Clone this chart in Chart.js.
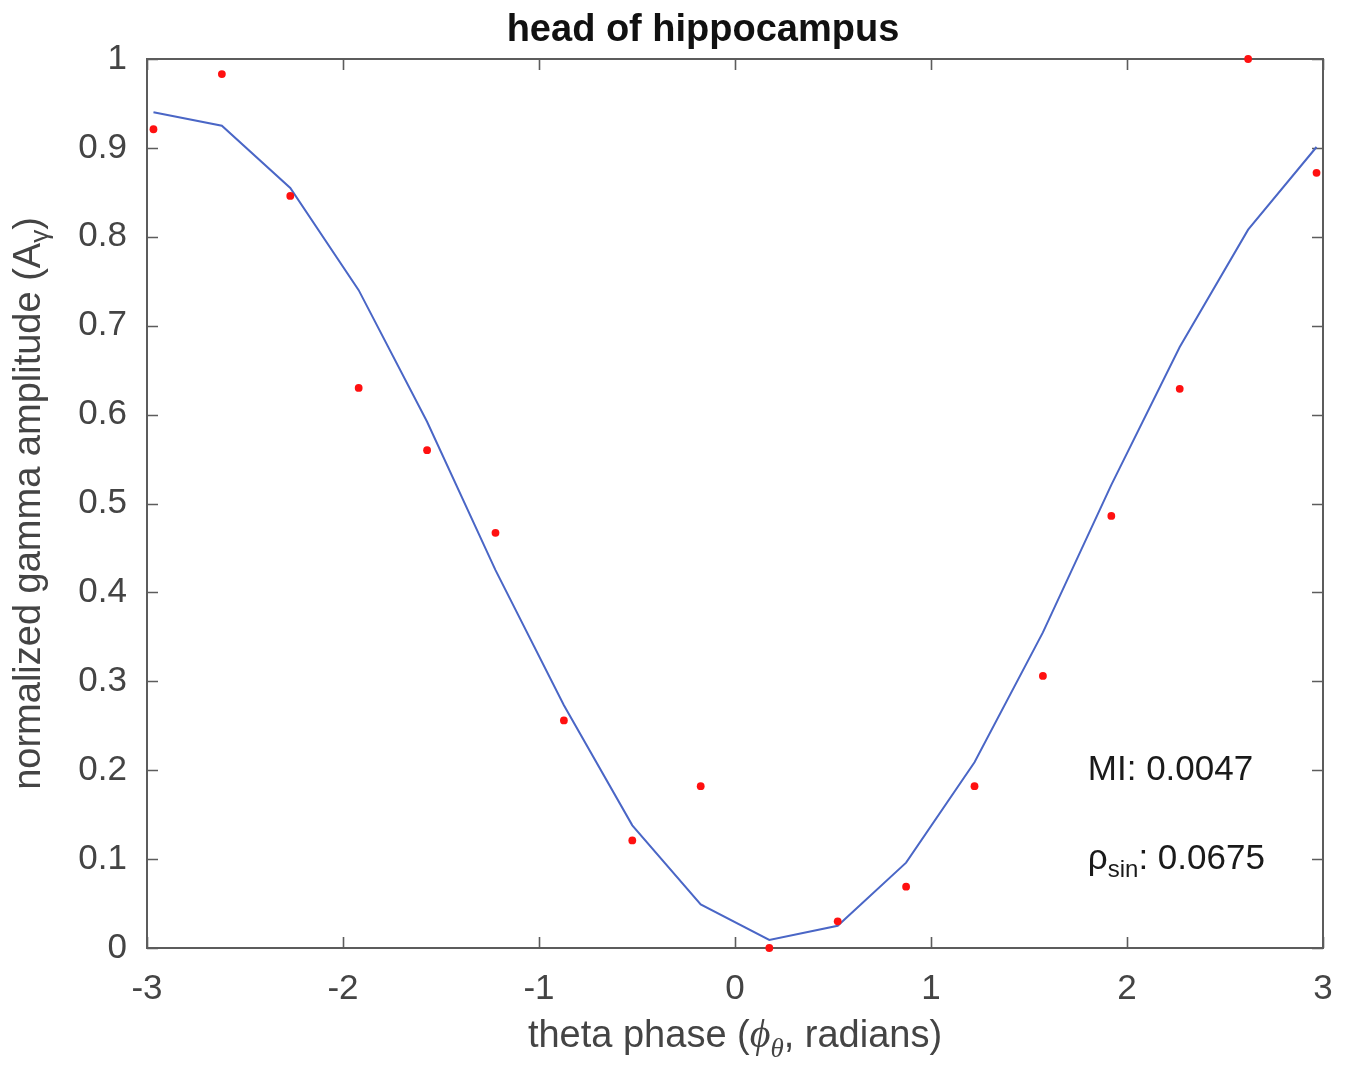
<!DOCTYPE html>
<html><head><meta charset="utf-8">
<script src="https://cdn.jsdelivr.net/npm/chart.js@4.4.0/dist/chart.umd.min.js"></script>
<style>html,body{margin:0;padding:0;background:#fff}#wrap{width:1347px;height:1066px}</style>
</head><body><div id="wrap"><canvas id="c" width="1347" height="1066"></canvas></div>
<script>
// ---- data ----
const phase = [-2.967, -2.618, -2.269, -1.920, -1.571, -1.222, -0.873, -0.524, -0.175,
                0.175, 0.524, 0.873, 1.222, 1.571, 1.920, 2.269, 2.618, 2.967];
const amplitude = [0.921, 0.983, 0.846, 0.630, 0.560, 0.467, 0.256, 0.121, 0.182,
                   0.000, 0.030, 0.069, 0.182, 0.306, 0.486, 0.629, 1.000, 0.872];
const fitCurve = [0.940, 0.925, 0.855, 0.740, 0.592, 0.425, 0.273, 0.138, 0.049,
                  0.009, 0.025, 0.096, 0.209, 0.355, 0.521, 0.676, 0.808, 0.901];
const xTicks = [-3, -2, -1, 0, 1, 2, 3];
const yTicks = [0, 0.1, 0.2, 0.3, 0.4, 0.5, 0.6, 0.7, 0.8, 0.9, 1];
const titleText = 'head of hippocampus';
const miLabel = 'MI: 0.0047';
const rhoLabel = ['ρ', 'sin', ': 0.0675'];
const annotPos = [[1.8, 0.2], [1.8, 0.1]];

const SANS = '"Liberation Sans", Arial, Helvetica, sans-serif';
const SERIF = '"Liberation Serif", "DejaVu Serif", serif';

function drawRich(ctx, parts, x, y, align) {
  let w = 0;
  parts.forEach(p => { ctx.font = p.font; p.w = ctx.measureText(p.t).width; w += p.w; });
  let cx = align === 'left' ? x : x - w / 2;
  parts.forEach(p => {
    ctx.font = p.font;
    ctx.fillText(p.t, cx, y + (p.dy || 0));
    cx += p.w;
  });
}

const decor = {
  id: 'decor',
  beforeDatasetsDraw(chart) {
    const {ctx, chartArea: a, scales: {x, y}} = chart;
    ctx.save();
    ctx.strokeStyle = '#5c5c5c';
    ctx.lineWidth = 2;
    ctx.strokeRect(a.left, a.top, a.right - a.left, a.bottom - a.top);
    ctx.lineWidth = 1.6;
    ctx.beginPath();
    const L = 11;
    xTicks.forEach(v => {
      const px = Math.round(x.getPixelForValue(v)) + 0.5;
      ctx.moveTo(px, a.bottom); ctx.lineTo(px, a.bottom - L);
      ctx.moveTo(px, a.top); ctx.lineTo(px, a.top + L);
    });
    yTicks.forEach(v => {
      const py = Math.round(y.getPixelForValue(v)) + 0.5;
      ctx.moveTo(a.left, py); ctx.lineTo(a.left + L, py);
      ctx.moveTo(a.right, py); ctx.lineTo(a.right - L, py);
    });
    ctx.stroke();
    ctx.restore();
  },
  afterDraw(chart) {
    const {ctx, chartArea: a, scales: {x, y}} = chart;
    ctx.save();
    ctx.textBaseline = 'alphabetic';
    // title
    ctx.fillStyle = '#111';
    ctx.font = 'bold 38px ' + SANS;
    ctx.textAlign = 'center';
    ctx.fillText(titleText, 703, 41);
    ctx.textAlign = 'left';
    // x title
    ctx.fillStyle = '#444';
    drawRich(ctx, [
      {t: 'theta phase (', font: '38px ' + SANS},
      {t: 'ϕ', font: 'italic 40px ' + SERIF},
      {t: 'θ', font: 'italic 27px ' + SERIF, dy: 10},
      {t: ', radians)', font: '38px ' + SANS}
    ], (a.left + a.right) / 2, 1047, 'center');
    // y title
    ctx.save();
    ctx.translate(40, (a.top + a.bottom) / 2);
    ctx.rotate(-Math.PI / 2);
    drawRich(ctx, [
      {t: 'normalized gamma amplitude (A', font: '38px ' + SANS},
      {t: 'γ', font: '26px ' + SANS, dy: 8},
      {t: ')', font: '38px ' + SANS}
    ], 0, 0, 'center');
    ctx.restore();
    // annotations
    ctx.fillStyle = '#1a1a1a';
    ctx.textBaseline = 'middle';
    const p1 = [x.getPixelForValue(annotPos[0][0]), y.getPixelForValue(annotPos[0][1])];
    const p2 = [x.getPixelForValue(annotPos[1][0]), y.getPixelForValue(annotPos[1][1])];
    drawRich(ctx, [{t: miLabel, font: '35px ' + SANS}], p1[0], p1[1], 'left');
    drawRich(ctx, [
      {t: rhoLabel[0], font: '35px ' + SANS},
      {t: rhoLabel[1], font: '24px ' + SANS, dy: 11},
      {t: rhoLabel[2], font: '35px ' + SANS}
    ], p2[0], p2[1], 'left');
    ctx.restore();
  }
};

new Chart(document.getElementById('c'), {
  type: 'scatter',
  data: {
    datasets: [
      {
        label: 'amplitude',
        data: phase.map((p, i) => ({x: p, y: amplitude[i]})),
        pointRadius: 3.9,
        pointBackgroundColor: '#ff1010',
        pointBorderWidth: 0,
        showLine: false,
        clip: false,
        order: 0
      },
      {
        label: 'fit',
        data: phase.map((p, i) => ({x: p, y: fitCurve[i]})),
        showLine: true,
        borderColor: '#4a66c6',
        borderWidth: 2,
        pointRadius: 0,
        tension: 0,
        clip: false,
        order: 1
      }
    ]
  },
  options: {
    responsive: false,
    animation: false,
    devicePixelRatio: 1,
    layout: {padding: {top: 59, right: 24, left: 0, bottom: 0}},
    plugins: {legend: {display: false}, tooltip: {enabled: false}, title: {display: false}},
    scales: {
      x: {
        type: 'linear', min: -3, max: 3,
        afterBuildTicks: s => { s.ticks = xTicks.map(v => ({value: v})); },
        afterFit: s => { s.height = 118; s.paddingLeft = 0; s.paddingRight = 0; },
        grid: {display: false, drawTicks: false},
        border: {display: false},
        ticks: {padding: 20, color: '#444', font: {family: SANS, size: 35}, callback: v => String(v), maxRotation: 0}
      },
      y: {
        type: 'linear', min: 0, max: 1,
        afterBuildTicks: s => { s.ticks = yTicks.map(v => ({value: v})); },
        afterFit: s => { s.width = 147; s.paddingTop = 0; s.paddingBottom = 0; },
        grid: {display: false, drawTicks: false},
        border: {display: false},
        ticks: {padding: 20, color: '#444', font: {family: SANS, size: 35}, callback: v => String(v)}
      }
    }
  },
  plugins: [decor]
});
</script>
</body></html>
